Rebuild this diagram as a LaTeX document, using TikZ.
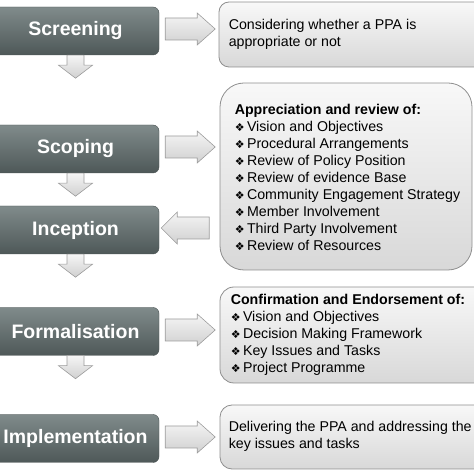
\documentclass[tikz,border=0pt]{standalone}
\usepackage{fontspec}
\setmainfont{Liberation Sans}
\newfontfamily\symfont{DejaVu Sans}
\usetikzlibrary{positioning}
\definecolor{stagetop}{HTML}{808B8B}
\definecolor{stagebot}{HTML}{4E5858}
\definecolor{stageedge}{HTML}{4A5252}
\definecolor{notetop}{HTML}{F8F8F8}
\definecolor{notebot}{HTML}{D8D8D8}
\definecolor{noteedge}{HTML}{8E8E8E}
\definecolor{arrtop}{HTML}{F5F5F5}
\definecolor{arrbot}{HTML}{D0D0D0}
\definecolor{arredge}{HTML}{9C9C9C}
\newcommand{\bul}{{\symfont\fontsize{11}{12}\selectfont ❖}\,}

\tikzset{
  stage/.style={rounded corners=6pt, top color=stagetop, bottom color=stagebot, draw=stageedge,
    text=white, minimum width=167pt, minimum height=48pt, font=\fontsize{19.5}{23}\selectfont\bfseries},
  note/.style={top color=notetop, bottom color=notebot, draw=noteedge, line width=0.8pt},
  notetext/.style={anchor=west, align=left, inner sep=0pt, font=\fontsize{14.2}{17}\selectfont},
  blockarr/.style={top color=arrtop, bottom color=arrbot, draw=arredge, line width=0.6pt},
  downarr/.pic={\path[blockarr] (-8.5,0) -- (-8.5,-10) -- (-17,-10) -- (0,-23) -- (17,-10) -- (8.5,-10) -- (8.5,0) -- cycle;},
  rightarr/.pic={\path[blockarr] (0,-11) -- (32,-11) -- (32,-16) -- (50,0) -- (32,16) -- (32,11) -- (0,11) -- cycle;},
  leftarr/.pic={\path[blockarr] (0,0) -- (16,16) -- (16,11) -- (48,11) -- (48,-11) -- (16,-11) -- (16,-16) -- cycle;}
}

\begin{document}
\begin{tikzpicture}[x=1pt, y=1pt]
  \useasboundingbox (0,0) rectangle (474,474);
  % stages
  \node[stage] (scr) at (75.5,443) {Screening};
  \node[stage] (scop) at (75.5,325) {Scoping};
  \node[stage] (inc) at (75.5,244) {Inception};
  \node[stage] (form) at (75.5,142.5) {Formalisation};
  \node[stage] (impl) at (75.5,35.5) {Implementation};
  \pic at (scr.south) {downarr};
  \pic at (scop.south) {downarr};
  \pic at (inc.south) {downarr};
  \pic at (form.south) {downarr};
  % notes
  \node[note, rounded corners=10pt, minimum width=271pt, minimum height=65pt] (scrnote) at (354.5,439.5) {};
  \node[notetext] (scrtxt) at ([xshift=10pt]scrnote.west) {Considering whether a PPA is\\appropriate or not};
  \node[note, rounded corners=24pt, minimum width=252pt, minimum height=187pt] (scopnote) at (346,297.5) {};
  \node[notetext] (scoptxt) at ([xshift=15pt,yshift=-1pt]scopnote.west) {\textbf{Appreciation and review of:}\\
    \bul Vision and Objectives\\ \bul Procedural Arrangements\\ \bul Review of Policy Position\\
    \bul Review of evidence Base\\ \bul Community Engagement Strategy\\ \bul Member Involvement\\
    \bul Third Party Involvement\\ \bul Review of Resources};
  \node[note, rounded corners=14pt, minimum width=270pt, minimum height=96pt] (formnote) at (355,139) {};
  \node[notetext] (formtxt) at ([xshift=11pt]formnote.west) {\textbf{Confirmation and Endorsement of:}\\
    \bul Vision and Objectives\\ \bul Decision Making Framework\\ \bul Key Issues and Tasks\\ \bul Project Programme};
  \node[note, rounded corners=12pt, minimum width=270pt, minimum height=64pt] (implnote) at (355,37) {};
  \node[notetext] (impltxt) at ([xshift=9pt,yshift=1pt]implnote.west) {Delivering the PPA and addressing the\\key issues and tasks};
  % links
  \pic at ([xshift=6pt,yshift=2pt]scr.east) {rightarr};
  \pic at ([xshift=6pt,yshift=2pt]scop.east) {rightarr};
  \pic at ([xshift=2pt,yshift=2pt]inc.east) {leftarr};
  \pic at ([xshift=6pt,yshift=1.5pt]form.east) {rightarr};
  \pic at ([xshift=6pt,yshift=1.5pt]impl.east) {rightarr};
\end{tikzpicture}
\end{document}
